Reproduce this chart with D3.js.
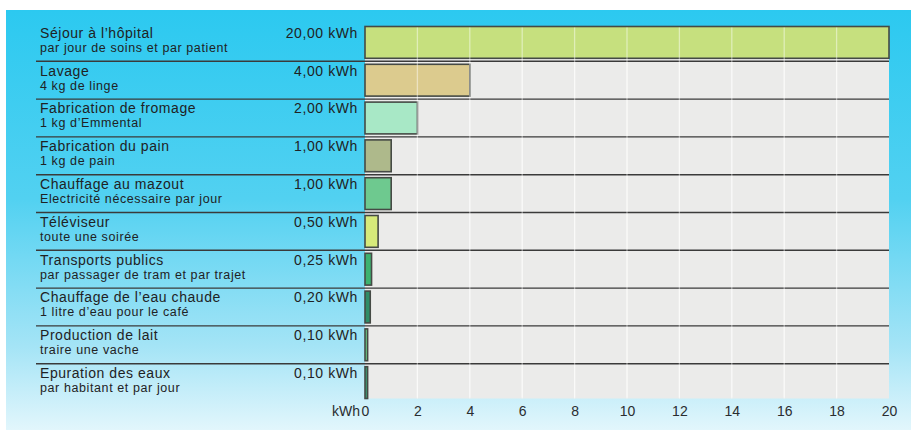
<!DOCTYPE html>
<html>
<head>
<meta charset="utf-8">
<script src="https://cdn.jsdelivr.net/npm/d3@7"></script>
<style>
  html, body { margin: 0; padding: 0; background: #ffffff; }
  svg { display: block; font-family: "Liberation Sans", Arial, Helvetica, sans-serif; }
</style>
</head>
<body>
<div id="chart"></div>
<script>
// ---- data ----
const titles = [
  "Séjour à l’hôpital",
  "Lavage",
  "Fabrication de fromage",
  "Fabrication du pain",
  "Chauffage au mazout",
  "Téléviseur",
  "Transports publics",
  "Chauffage de l’eau chaude",
  "Production de lait",
  "Epuration des eaux"
];
const subtitles = [
  "par jour de soins et par patient",
  "4 kg de linge",
  "1 kg d’Emmental",
  "1 kg de pain",
  "Electricité nécessaire par jour",
  "toute une soirée",
  "par passager de tram et par trajet",
  "1 litre d’eau pour le café",
  "traire une vache",
  "par habitant et par jour"
];
const values = [20, 4, 2, 1, 1, 0.5, 0.25, 0.2, 0.1, 0.1];
const valueLabels = ["20,00 kWh", "4,00 kWh", "2,00 kWh", "1,00 kWh", "1,00 kWh",
                     "0,50 kWh", "0,25 kWh", "0,20 kWh", "0,10 kWh", "0,10 kWh"];
const tickValues = [0, 2, 4, 6, 8, 10, 12, 14, 16, 18, 20];
const axisUnit = "kWh";
const palette = ["#c6e07e", "#dccb8e", "#a8e8c6", "#aeb98b", "#6ec98f",
                 "#d6ea7a", "#3db26f", "#2f8d67", "#6ccc86", "#3e9b73"];

// ---- layout ----
const W = 911, H = 430;
const svg = d3.select("#chart").append("svg").attr("width", W).attr("height", H);

const defs = svg.append("defs");
const grad = defs.append("linearGradient").attr("id", "bg").attr("x1", 0).attr("y1", 0).attr("x2", 0).attr("y2", 1);
grad.append("stop").attr("offset", "0%").attr("stop-color", "#2cc9f0");
grad.append("stop").attr("offset", "45%").attr("stop-color", "#52d1f1");
grad.append("stop").attr("offset", "80%").attr("stop-color", "#a4e4f6");
grad.append("stop").attr("offset", "100%").attr("stop-color", "#e2f6fc");

svg.append("rect").attr("x", 6).attr("y", 10).attr("width", W - 6).attr("height", H - 10)
  .attr("fill", "url(#bg)");

const x = d3.scaleLinear().domain([0, 20]).range([365, 889]);
const y = d3.scaleBand().domain(d3.range(values.length)).range([23.5, 401.5]).paddingInner(0);
const bw = y.bandwidth();

// plot background
svg.append("rect")
  .attr("x", x(0)).attr("y", y(0) + 3)
  .attr("width", x(20) - x(0)).attr("height", y(values.length - 1) + bw - 3 - (y(0) + 3))
  .attr("fill", "#ebebea");

// faint grid on background
svg.append("g").selectAll("line").data(tickValues.slice(1, -1)).join("line")
  .attr("x1", d => x(d)).attr("x2", d => x(d))
  .attr("y1", y(0) + 3).attr("y2", y(values.length - 1) + bw - 3)
  .attr("stroke", "#f6f6f4").attr("stroke-width", 1.2);

// separators
svg.append("g").selectAll("line").data(d3.range(1, values.length)).join("line")
  .attr("x1", 36).attr("x2", x(20))
  .attr("y1", i => y(i)).attr("y2", i => y(i))
  .attr("stroke", "#3a3a3a").attr("stroke-width", 1.4);

// bars
svg.append("g").selectAll("rect").data(values).join("rect")
  .attr("x", x(0))
  .attr("y", (d, i) => y(i) + 3)
  .attr("width", d => x(d) - x(0))
  .attr("height", bw - 6)
  .attr("fill", (d, i) => palette[i])
  .attr("stroke", "#454a45").attr("stroke-width", 1.6);

// grid over bars (light lines)
svg.append("g").selectAll("line").data(tickValues.slice(1, -1)).join("line")
  .attr("x1", d => x(d)).attr("x2", d => x(d))
  .attr("y1", y(0) + 4).attr("y2", y(values.length - 1) + bw - 4)
  .attr("stroke", "#ffffff").attr("stroke-opacity", 0.45).attr("stroke-width", 1.3);

// labels
const lab = svg.append("g").attr("fill", "#1f2224");
lab.selectAll("text.t").data(titles).join("text").attr("class", "t")
  .attr("x", 40).attr("y", (d, i) => y(i) + 14.3)
  .attr("font-size", 14).attr("letter-spacing", 0.55)
  .text(d => d);
lab.selectAll("text.s").data(subtitles).join("text").attr("class", "s")
  .attr("x", 40).attr("y", (d, i) => y(i) + 28.2)
  .attr("font-size", 12.5).attr("letter-spacing", 0.6)
  .text(d => d);
lab.selectAll("text.v").data(valueLabels).join("text").attr("class", "v")
  .attr("x", 358).attr("y", (d, i) => y(i) + 14.3)
  .attr("text-anchor", "end")
  .attr("font-size", 14).attr("letter-spacing", 0.6)
  .text(d => d);

// axis
const axis = d3.axisBottom(x).tickValues(tickValues).tickSize(0).tickPadding(4).tickFormat(d3.format("d"));
const ag = svg.append("g").attr("transform", `translate(0,${y(values.length - 1) + bw + 1})`).call(axis);
ag.select(".domain").remove();
ag.selectAll("text").attr("font-size", 14).attr("fill", "#2a2d30")
  .attr("font-family", "'Liberation Sans', Arial, sans-serif");
ag.selectAll(".tick").filter(d => d === 0).select("text").attr("text-anchor", "start").attr("x", -4);
ag.append("text").attr("x", 360).attr("y", 4).attr("dy", "0.71em")
  .attr("text-anchor", "end").attr("font-size", 14).attr("fill", "#2a2d30")
  .attr("font-family", "'Liberation Sans', Arial, sans-serif")
  .text(axisUnit);
</script>
</body>
</html>
